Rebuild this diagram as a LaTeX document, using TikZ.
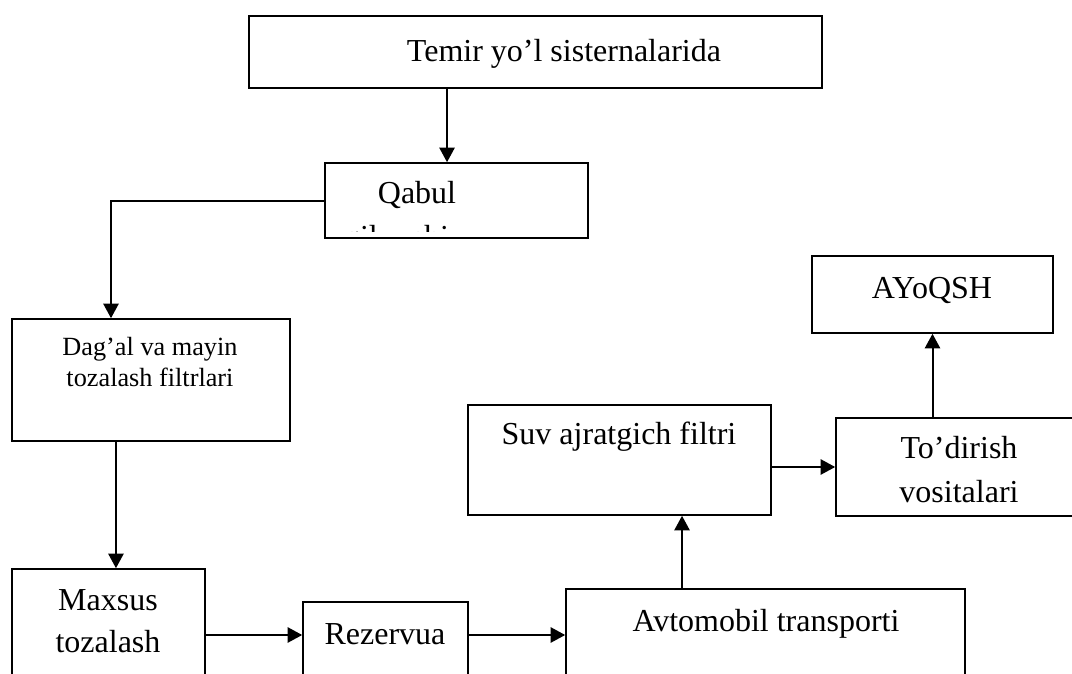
\documentclass[tikz,border=0pt]{standalone}
\usepackage{fontspec}
\setmainfont{Liberation Serif}
\usetikzlibrary{arrows.meta,positioning}

\begin{document}
\begin{tikzpicture}[
      x=0.75pt,y=-0.75pt,
      box/.style={rectangle,draw=black,line width=1.2pt,inner sep=0pt},
      lbl/.style={inner sep=0pt,anchor=base,align=center,font=\fontsize{24}{33}\selectfont},
      arrow/.style={-{Triangle[length=11pt,width=11.5pt]},line width=1.5pt}
    ]
    \useasboundingbox (0,0) rectangle (1072,674);
    % boxes
    \node[box,minimum width=429.75pt,minimum height=54pt] (temir) at (535.5,52) {};
    \node[box,minimum width=197.25pt,minimum height=56.25pt] (qabul) at (456.5,200.5) {};
    \node[box,minimum width=208.5pt,minimum height=91.5pt] (dagal) at (151,380) {};
    \node[box,minimum width=144.75pt,minimum height=113.25pt] (maxsus) at (108.5,644.5) {};
    \node[box,minimum width=123.75pt,minimum height=88.5pt] (rezerv) at (385.5,661) {};
    \node[box,minimum width=299.25pt,minimum height=98.25pt] (avto) at (765.5,654.5) {};
    \node[box,minimum width=227.25pt,minimum height=82.5pt] (suv) at (619.5,460) {};
    \node[box,minimum width=184.5pt,minimum height=73.5pt] (todir) at (959,467) {};
    \node[box,minimum width=180.75pt,minimum height=57.75pt] (ayoqsh) at (932.5,294.5) {};
    % texts (multi-line ones sit on their last line)
    \node[lbl] (temirtxt) at (564,62) {Temir yo’l sisternalarida};
    \node[lbl] (qabultxt) at (417,203) {Qabul};
    \begin{scope}
      \clip (325,163) rectangle (588,231);
      \node[lbl] (qiluvtxt) at (396.5,247) {qiluvchi};
    \end{scope}
    \node[lbl,font=\fontsize{19.7}{23.25}\selectfont] (dagaltxt) at (150,386) {Dag’al va mayin\\tozalash filtrlari};
    \node[lbl,font=\fontsize{24}{31.5}\selectfont] (maxsustxt) at (108,652) {Maxsus\\tozalash};
    \node[lbl] (rezervtxt) at (385,644) {Rezervua};
    \node[lbl] (avtotxt) at (766,631) {Avtomobil transporti};
    \node[lbl] (suvtxt) at (619,444) {Suv ajratgich filtri};
    \node[lbl] (todirtxt) at (959,502) {To’dirish\\vositalari};
    \node[lbl] (ayoqshtxt) at (932,298) {AYoQSH};
    % connectors
    \coordinate (lowrow) at (0,635);
    \coordinate (c1) at ([xshift=-7.1pt]qabul.north);
    \coordinate (c2) at ([xshift=5.6pt]maxsus.north);
    \coordinate (c3) at ([xshift=-62.6pt]avto.north);
    \draw[arrow] (c1 |- temir.south) -- (c1);
    \draw[arrow] (qabul.west) -| ([xshift=-30pt]dagal.north);
    \draw[arrow] (c2 |- dagal.south) -- (c2);
    \draw[arrow] (maxsus.east |- lowrow) -- (rezerv.west |- lowrow);
    \draw[arrow] (rezerv.east |- lowrow) -- (avto.west |- lowrow);
    \draw[arrow] (c3) -- (c3 |- suv.south);
    \draw[arrow] (suv.east |- todir.west) -- (todir.west);
    \draw[arrow] (todir.north -| ayoqsh.south) -- (ayoqsh.south);
  \end{tikzpicture}
\end{document}
